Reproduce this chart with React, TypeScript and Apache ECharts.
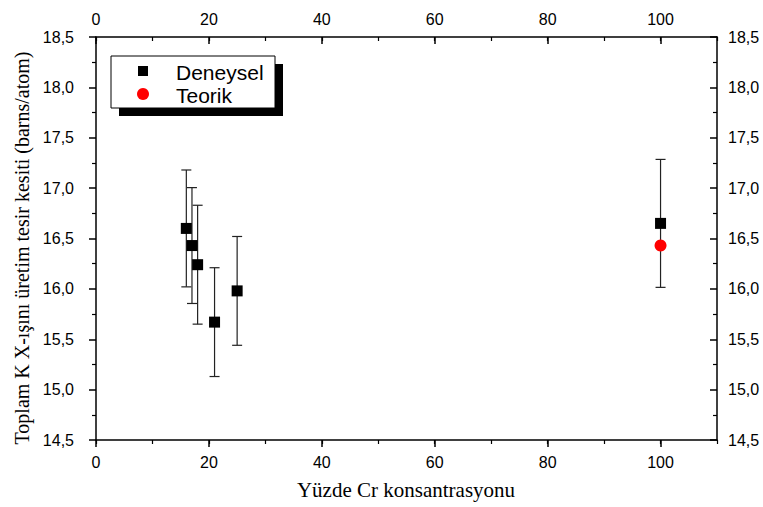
import React, { useEffect, useRef } from "react";
import * as echarts from "echarts";

// Deneysel (experimental) data
const crPercent = [16, 17, 18, 21, 25, 100];
const crossSection = [16.6, 16.43, 16.24, 15.67, 15.98, 16.65];
const crossSectionErr = [0.58, 0.575, 0.59, 0.54, 0.54, 0.635];

// Teorik (theoretical) data
const teorikX = [100];
const teorikY = [16.43];

const xTitle = "Yüzde Cr konsantrasyonu";
const yTitle = "Toplam K X-ışını üretim tesir kesiti (barns/atom)";
const seriesNames = ["Deneysel", "Teorik"];

const SANS = "'Liberation Sans', Arial, sans-serif";
const SERIF = "'Liberation Serif', 'Times New Roman', serif";

export default function App() {
  const ref = useRef<HTMLDivElement>(null);
  useEffect(() => {
    document.body.style.margin = "0";
    if (!ref.current) return;
    const chart = echarts.init(ref.current, undefined, { renderer: "svg" });

    const axisLine = { show: true, onZero: false, lineStyle: { color: "#000", width: 1.5 } };
    const labelStyle = { color: "#000", fontSize: 16, fontFamily: SANS };
    const yFmt = (v: number) => v.toFixed(1).replace(".", ",");

    const xCommon = { type: "value", min: 0, max: 110, splitLine: { show: false } };

    const option: any = {
      animation: false,
      backgroundColor: "#fff",
      grid: { left: 96, right: 46, top: 37, bottom: 67, containLabel: false },
      xAxis: [
        {
          ...xCommon,
          position: "bottom",
          interval: 20,
          axisLine,
          axisTick: { show: true, length: 7, inside: false, lineStyle: { color: "#000", width: 1.5 } },
          axisLabel: { ...labelStyle, margin: 14, showMaxLabel: false },
        },
        {
          ...xCommon,
          position: "bottom",
          interval: 10,
          axisLine: { show: false },
          axisTick: { show: true, length: 4, inside: false, lineStyle: { color: "#000", width: 1.2 } },
          axisLabel: { show: false },
        },
        {
          ...xCommon,
          position: "top",
          interval: 20,
          axisLine,
          axisTick: { show: true, length: 7, inside: true, lineStyle: { color: "#000", width: 1.5 } },
          axisLabel: { ...labelStyle, margin: 10, showMaxLabel: false },
        },
        {
          ...xCommon,
          position: "top",
          interval: 10,
          axisLine: { show: false },
          axisTick: { show: true, length: 4, inside: true, lineStyle: { color: "#000", width: 1.2 } },
          axisLabel: { show: false },
        },
      ],
      yAxis: [
        {
          type: "value",
          position: "left",
          min: 14.5,
          max: 18.5,
          interval: 0.5,
          splitLine: { show: false },
          axisLine,
          axisTick: { show: true, length: 7, inside: false, lineStyle: { color: "#000", width: 1.5 } },
          minorTick: { show: true, splitNumber: 2, length: 4, lineStyle: { color: "#000", width: 1.2 } },
          axisLabel: { ...labelStyle, margin: 22, formatter: yFmt },
        },
        {
          type: "value",
          position: "right",
          min: 14.5,
          max: 18.5,
          interval: 0.5,
          splitLine: { show: false },
          axisLine,
          axisTick: { show: true, length: 7, inside: true, lineStyle: { color: "#000", width: 1.5 } },
          minorTick: { show: true, splitNumber: 2, length: 4, lineStyle: { color: "#000", width: 1.2 } },
          axisLabel: { ...labelStyle, margin: 11, formatter: yFmt },
        },
      ],
      series: [
        {
          type: "custom",
          name: "errors",
          xAxisIndex: 0,
          yAxisIndex: 0,
          z: 2,
          silent: true,
          data: crPercent.map((x, i) => [x, crossSection[i], crossSectionErr[i]]),
          encode: { x: 0, y: 1 },
          renderItem: (params: any, api: any) => {
            const x = api.value(0);
            const y = api.value(1);
            const e = api.value(2);
            const top = api.coord([x, y + e]);
            const bot = api.coord([x, y - e]);
            const hw = 5;
            const style = { stroke: "#222", lineWidth: 1.2 };
            return {
              type: "group",
              children: [
                { type: "line", shape: { x1: top[0], y1: top[1], x2: bot[0], y2: bot[1] }, style },
                { type: "line", shape: { x1: top[0] - hw, y1: top[1], x2: top[0] + hw, y2: top[1] }, style },
                { type: "line", shape: { x1: bot[0] - hw, y1: bot[1], x2: bot[0] + hw, y2: bot[1] }, style },
              ],
            };
          },
        },
        {
          type: "scatter",
          name: seriesNames[0],
          xAxisIndex: 0,
          yAxisIndex: 0,
          z: 3,
          symbol: "rect",
          symbolSize: 11,
          itemStyle: { color: "#000", opacity: 1 },
          data: crPercent.map((x, i) => [x, crossSection[i]]),
        },
        {
          type: "scatter",
          name: seriesNames[1],
          xAxisIndex: 0,
          yAxisIndex: 0,
          z: 4,
          symbol: "circle",
          symbolSize: 12,
          itemStyle: { color: "#ff0000", opacity: 1 },
          data: teorikX.map((x, i) => [x, teorikY[i]]),
        },
      ],
      graphic: [
        {
          type: "text",
          x: 406,
          y: 490,
          style: { text: xTitle, font: `21px ${SERIF}`, fill: "#000", textAlign: "center", textVerticalAlign: "middle" },
        },
        {
          type: "text",
          x: 22,
          y: 248,
          rotation: Math.PI / 2,
          style: { text: yTitle, font: `20px ${SERIF}`, fill: "#000", textAlign: "center", textVerticalAlign: "middle" },
        },
        { type: "rect", shape: { x: 119, y: 64, width: 164, height: 52 }, style: { fill: "#000" }, z: 10 },
        { type: "rect", shape: { x: 111, y: 56, width: 164, height: 52 }, style: { fill: "#fff", stroke: "#000", lineWidth: 1 }, z: 11 },
        { type: "rect", shape: { x: 138, y: 66, width: 10, height: 10 }, style: { fill: "#000" }, z: 12 },
        { type: "circle", shape: { cx: 143, cy: 94, r: 6 }, style: { fill: "#ff0000" }, z: 12 },
        {
          type: "text", x: 176, y: 72, z: 12,
          style: { text: seriesNames[0], font: `21px ${SANS}`, fill: "#000", textVerticalAlign: "middle" },
        },
        {
          type: "text", x: 176, y: 95, z: 12,
          style: { text: seriesNames[1], font: `21px ${SANS}`, fill: "#000", textVerticalAlign: "middle" },
        },
      ],
    };
    chart.setOption(option);
    return () => chart.dispose();
  }, []);
  return <div ref={ref} style={{ width: 763, height: 507 }} />;
}
